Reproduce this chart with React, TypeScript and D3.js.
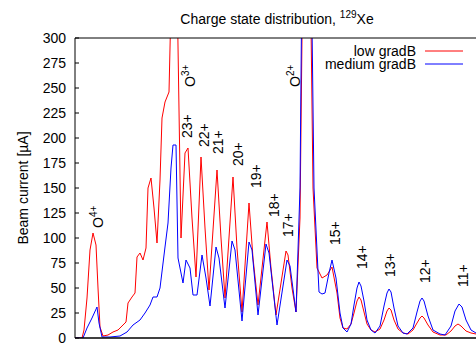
import * as d3 from 'd3';
import { useRef, useEffect } from 'react';

// scan position (a.u.) vs beam current [uA]
const lowGradB: [number, number][] = [
  [0, 0], [7, 0], [9, 8], [12, 40], [15, 88], [18, 105], [21, 93], [23, 50], [25, 11], [28, 2],
  [33, 3], [38, 6], [43, 8], [47, 12], [51, 16], [53, 35], [57, 41], [60, 45], [62, 81], [65, 85],
  [68, 78], [71, 90], [73, 150], [76, 160], [79, 130], [82, 95], [85, 158], [87, 220], [90, 236], [94, 246],
  [98, 420], [101, 420], [106, 100], [110, 185], [113, 190], [117, 120], [121, 61], [126, 181], [130, 110], [134, 48],
  [142, 168], [146, 100], [150, 40], [158, 161], [162, 90], [167, 26], [174, 135], [178, 80], [183, 33], [192, 116],
  [196, 70], [201, 23], [211, 87], [213, 83], [217, 50], [221, 26], [225, 120], [229, 480], [234, 480], [238, 150],
  [242, 70], [247, 60], [252, 63], [257, 71], [262, 45], [265, 20], [268, 10], [272, 9], [276, 14], [279, 25],
  [282, 37], [284, 41], [286, 38], [289, 26], [292, 14], [296, 8], [300, 6], [305, 9], [309, 18], [312, 27],
  [314, 30], [316, 28], [319, 18], [323, 9], [328, 5], [333, 4], [338, 8], [342, 15], [345, 20], [347, 22],
  [349, 20], [353, 13], [358, 6], [365, 3], [371, 3], [376, 7], [380, 12], [383, 14], [386, 12], [391, 7],
  [396, 5], [401, 4],
];

const mediumGradB: [number, number][] = [
  [0, 0], [8, 0], [12, 10], [17, 20], [22, 31], [24, 15], [27, 1], [35, 1], [45, 2], [52, 6],
  [58, 13], [65, 18], [70, 25], [75, 33], [78, 41], [82, 41], [85, 50], [90, 91], [93, 115], [96, 170],
  [98, 193], [101, 193], [103, 80], [108, 55], [111, 78], [115, 70], [118, 43], [122, 43], [127, 83], [131, 60],
  [135, 32], [141, 91], [144, 80], [150, 30], [157, 97], [160, 88], [167, 17], [174, 96], [177, 88], [183, 23],
  [191, 94], [194, 85], [202, 13], [212, 78], [215, 72], [221, 26], [225, 150], [228, 480], [235, 480], [239, 150],
  [244, 46], [247, 44], [250, 45], [254, 65], [257, 78], [261, 60], [265, 25], [268, 10], [272, 6], [276, 14],
  [279, 33], [282, 50], [284, 56], [286, 52], [289, 37], [292, 18], [296, 8], [300, 5], [305, 12], [309, 32],
  [312, 45], [314, 49], [316, 46], [319, 30], [323, 12], [328, 5], [332, 4], [338, 10], [342, 26], [345, 37],
  [347, 40], [349, 37], [353, 22], [358, 8], [365, 4], [370, 3], [376, 12], [380, 27], [384, 34], [387, 31],
  [391, 18], [396, 8], [401, 5],
];

const yTicks = d3.range(0, 301, 25);

// peak annotations: ion, charge, anchor (scan position, current)
const peakLabels = [
  { ion: 'O', charge: '4+', x: 28, y: 110 },
  { ion: 'O', charge: '3+', x: 120, y: 251 },
  { ion: '', charge: '23+', x: 117, y: 200 },
  { ion: '', charge: '22+', x: 134, y: 191 },
  { ion: '', charge: '21+', x: 148, y: 184 },
  { ion: '', charge: '20+', x: 168, y: 172 },
  { ion: '', charge: '19+', x: 186, y: 150 },
  { ion: '', charge: '18+', x: 204, y: 121 },
  { ion: '', charge: '17+', x: 218, y: 101 },
  { ion: 'O', charge: '2+', x: 225, y: 251 },
  { ion: '', charge: '15+', x: 265, y: 93 },
  { ion: '', charge: '14+', x: 292, y: 69 },
  { ion: '', charge: '13+', x: 320, y: 61 },
  { ion: '', charge: '12+', x: 355, y: 55 },
  { ion: '', charge: '11+', x: 393, y: 51 },
];

const seriesNames = ['low gradB', 'medium gradB'];
const seriesColors = ['#ff0000', '#0000ff'];

const W = 476;
const H = 344;
const margin = { top: 38, right: 0, bottom: 6, left: 75 };

const ChargeStateChart = () => {
  const ref = useRef<SVGSVGElement>(null);

  useEffect(() => {
    if (!ref.current) return;
    const svg = d3.select(ref.current);
    svg.selectAll('*').remove();

    const font = '"Liberation Sans", Arial, sans-serif';
    const x = d3.scaleLinear().domain([0, 401]).range([margin.left, W - margin.right]);
    const y = d3.scaleLinear().domain([0, 300]).range([H - margin.bottom, margin.top]);

    svg.append('rect').attr('width', W).attr('height', H).attr('fill', 'white');

    svg.append('defs').append('clipPath').attr('id', 'plot-clip')
      .append('rect')
      .attr('x', x(0)).attr('y', y(300))
      .attr('width', x(401) - x(0)).attr('height', y(0) - y(300));

    // title
    const title = svg.append('text')
      .attr('x', 277).attr('y', 24)
      .attr('text-anchor', 'middle')
      .attr('font-family', font).attr('font-size', 14);
    title.append('tspan').text('Charge state distribution, ');
    title.append('tspan').attr('font-size', 10).attr('dy', -6).text('129');
    title.append('tspan').attr('dy', 6).text('Xe');

    // y axis label
    svg.append('text')
      .attr('transform', `translate(28,${(y(0) + y(300)) / 2}) rotate(-90)`)
      .attr('text-anchor', 'middle')
      .attr('font-family', font).attr('font-size', 14)
      .text('Beam current [µA]');

    // ticks and labels
    const ticks = svg.append('g');
    ticks.selectAll('line').data(yTicks).join('line')
      .attr('x1', x(0)).attr('x2', x(0) + 4)
      .attr('y1', d => y(d)).attr('y2', d => y(d))
      .attr('stroke', 'black').attr('stroke-width', 1);
    ticks.selectAll('text').data(yTicks).join('text')
      .attr('x', x(0) - 9).attr('y', d => y(d) + 4.5)
      .attr('text-anchor', 'end')
      .attr('font-family', font).attr('font-size', 14)
      .text(d => d);

    // series
    const line = d3.line<[number, number]>().x(d => x(d[0])).y(d => y(d[1]));
    const plot = svg.append('g').attr('clip-path', 'url(#plot-clip)');
    [lowGradB, mediumGradB].forEach((s, i) => {
      plot.append('path')
        .datum(s)
        .attr('d', line)
        .attr('fill', 'none')
        .attr('stroke', seriesColors[i])
        .attr('stroke-width', 1)
        .attr('stroke-linejoin', 'round');
    });

    // frame
    svg.append('path')
      .attr('d', `M${x(0)},${y(0)}V${y(300)}H${W}`)
      .attr('fill', 'none').attr('stroke', 'black').attr('stroke-width', 1);
    svg.append('line')
      .attr('x1', x(0)).attr('x2', W).attr('y1', y(0)).attr('y2', y(0))
      .attr('stroke', 'black').attr('stroke-width', 1.5);

    // peak labels
    const labels = svg.append('g').attr('font-family', font).attr('font-size', 14);
    peakLabels.forEach(l => {
      const t = labels.append('text')
        .attr('transform', `translate(${x(l.x)},${y(l.y)}) rotate(-90)`);
      if (l.ion) {
        t.append('tspan').text(l.ion);
        t.append('tspan').attr('font-size', 10).attr('dy', -6).text(l.charge);
      } else {
        t.text(l.charge);
      }
    });

    // legend
    const legend = svg.append('g').attr('font-family', font).attr('font-size', 14);
    seriesNames.forEach((name, i) => {
      const ly = 51 + i * 13;
      legend.append('text')
        .attr('x', 416).attr('y', ly + 5)
        .attr('text-anchor', 'end')
        .text(name);
      legend.append('line')
        .attr('x1', 425).attr('x2', 463).attr('y1', ly).attr('y2', ly)
        .attr('stroke', seriesColors[i]).attr('stroke-width', 1);
    });
  }, []);

  return <svg ref={ref} width={W} height={H} style={{ position: 'absolute', left: 0, top: 0 }}></svg>;
};

export default function App() {
  return <ChargeStateChart />;
}
